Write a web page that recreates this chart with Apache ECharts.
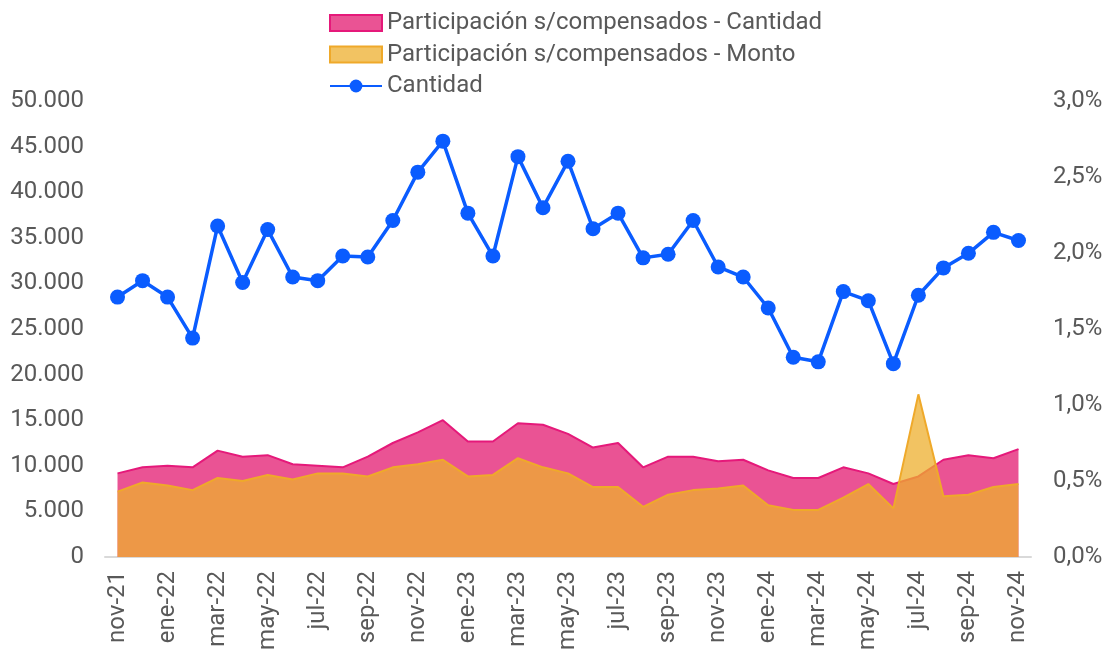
<!DOCTYPE html>
<html>
<head>
<meta charset="utf-8">
<script src="https://cdn.jsdelivr.net/npm/echarts@6/dist/echarts.min.js"></script>
<style>
  html, body { margin: 0; padding: 0; background: #fff; }
  #chart { width: 1109px; height: 650px; }
</style>
</head>
<body>
<div id="chart"></div>
<script>
const months = [
  "nov-21", "dic-21", "ene-22", "feb-22", "mar-22", "abr-22", "may-22", "jun-22",
  "jul-22", "ago-22", "sep-22", "oct-22", "nov-22", "dic-22", "ene-23", "feb-23",
  "mar-23", "abr-23", "may-23", "jun-23", "jul-23", "ago-23", "sep-23", "oct-23",
  "nov-23", "dic-23", "ene-24", "feb-24", "mar-24", "abr-24", "may-24", "jun-24",
  "jul-24", "ago-24", "sep-24", "oct-24", "nov-24",
];

// Cantidad (left axis)
const cantidad = [
  28500, 30300, 28500, 24000, 36300, 30100, 35900, 30700,
  30300, 33000, 32900, 36900, 42200, 45600, 37700, 33000,
  43900, 38300, 43400, 36000, 37700, 32800, 33200, 36900,
  31800, 30700, 27300, 21900, 21400, 29100, 28100, 21200,
  28700, 31700, 33300, 35600, 34700,
];

// Participación s/compensados, in percent (right axis)
const partCantidad = [
  0.55, 0.59, 0.60, 0.59, 0.70, 0.66, 0.67, 0.61,
  0.60, 0.59, 0.66, 0.75, 0.82, 0.90, 0.76, 0.76,
  0.88, 0.87, 0.81, 0.72, 0.75, 0.59, 0.66, 0.66,
  0.63, 0.64, 0.57, 0.52, 0.52, 0.59, 0.55, 0.48,
  0.53, 0.64, 0.67, 0.65, 0.71,
];

const partMonto = [
  0.43, 0.49, 0.47, 0.44, 0.52, 0.50, 0.54, 0.51,
  0.55, 0.55, 0.53, 0.59, 0.61, 0.64, 0.53, 0.54,
  0.65, 0.59, 0.55, 0.46, 0.46, 0.33, 0.41, 0.44,
  0.45, 0.47, 0.34, 0.31, 0.31, 0.39, 0.48, 0.32,
  1.07, 0.40, 0.41, 0.46, 0.48,
];

const textColor = "#595959";
const fontFamily = "Roboto, sans-serif";
const fontSize = 24;

const fmtThousands = (v) => String(v).replace(/\B(?=(\d{3})+(?!\d))/g, ".");
const fmtPercent = (v) => v.toFixed(1).replace(".", ",") + "%";

const chart = echarts.init(document.getElementById("chart"), null, { renderer: "canvas" });

chart.setOption({
  animation: false,
  backgroundColor: "#fff",
  textStyle: { fontFamily },
  grid: { left: 105, right: 78, top: 101, bottom: 93, outerBoundsMode: "none" },
  legend: {
    orient: "vertical",
    left: 329,
    top: 11,
    padding: 0,
    itemWidth: 52,
    itemHeight: 16,
    itemGap: 7.5,
    textStyle: { color: textColor, fontSize, fontFamily },
    data: [
      {
        name: "Participación s/compensados - Cantidad",
        icon: "rect",
        itemStyle: { color: "#EA5394", borderColor: "#E5197A", borderWidth: 2 },
      },
      {
        name: "Participación s/compensados - Monto",
        icon: "rect",
        itemStyle: { color: "#F2C362", borderColor: "#EFA92A", borderWidth: 2 },
      },
      { name: "Cantidad" },
    ],
  },
  xAxis: {
    type: "category",
    data: months,
    boundaryGap: true,
    axisLine: { lineStyle: { color: "#d9d9d9", width: 2 } },
    axisTick: { interval: 1, length: 6, lineStyle: { color: "#d9d9d9", width: 2 } },
    axisLabel: {
      interval: 1,
      rotate: 90,
      margin: 14,
      color: textColor,
      fontSize,
      fontFamily,
    },
  },
  yAxis: [
    {
      type: "value",
      min: 0,
      max: 50000,
      interval: 5000,
      splitLine: { show: false },
      axisLine: { show: false },
      axisTick: { show: false },
      axisLabel: {
        margin: 21,
        color: textColor,
        fontSize,
        fontFamily,
        formatter: fmtThousands,
      },
    },
    {
      type: "value",
      min: 0,
      max: 3,
      interval: 0.5,
      splitLine: { show: false },
      axisLine: { show: false },
      axisTick: { show: false },
      axisLabel: {
        margin: 22,
        color: textColor,
        fontSize,
        fontFamily,
        formatter: fmtPercent,
      },
    },
  ],
  series: [
    {
      name: "Participación s/compensados - Cantidad",
      type: "line",
      yAxisIndex: 1,
      data: partCantidad,
      symbol: "none",
      lineStyle: { color: "#E5197A", width: 2 },
      itemStyle: { color: "#EA5394" },
      areaStyle: { color: "#EA5394", opacity: 1 },
      z: 1,
    },
    {
      name: "Participación s/compensados - Monto",
      type: "line",
      yAxisIndex: 1,
      data: partMonto,
      symbol: "none",
      lineStyle: { color: "#EFA92A", width: 2 },
      itemStyle: { color: "#F2C362" },
      areaStyle: { color: "rgba(238,175,46,0.75)", opacity: 1 },
      z: 2,
    },
    {
      name: "Cantidad",
      type: "line",
      yAxisIndex: 0,
      data: cantidad,
      symbol: "circle",
      symbolSize: 15,
      lineStyle: { color: "#0A5CFF", width: 3.5 },
      itemStyle: { color: "#0A5CFF" },
      z: 3,
    },
  ],
});
</script>
</body>
</html>
